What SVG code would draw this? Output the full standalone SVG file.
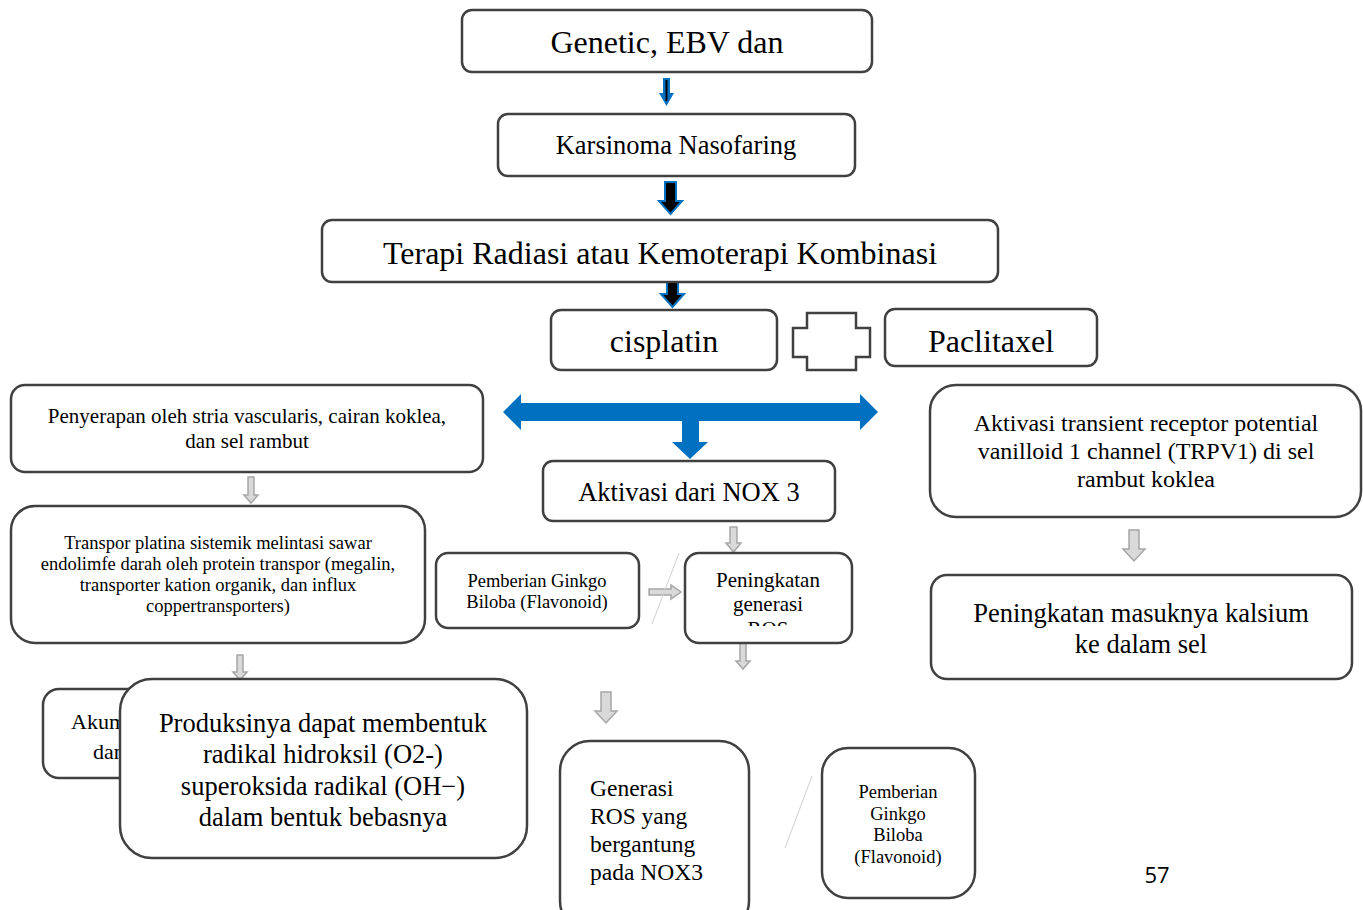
<svg xmlns="http://www.w3.org/2000/svg" width="1363" height="910" viewBox="0 0 1363 910">
  <style>
    .box { fill: #ffffff; stroke: #404040; stroke-width: 2.5; }
    .t { font-family: "Liberation Serif", "Times New Roman", serif; fill: #000000; text-anchor: middle; }
    .tl { font-family: "Liberation Serif", "Times New Roman", serif; fill: #000000; text-anchor: start; }
    .garrow { fill: #d9d9d9; stroke: #a6a6a6; stroke-width: 1.5; }
    .barrow { fill: #0070c0; }
    .faint { stroke: #d0d0d0; stroke-width: 1; fill: none; }
  </style>
  <defs>
    <clipPath id="clipRos">
      <rect x="686" y="554" width="165" height="72"/>
    </clipPath>
  </defs>
  <rect width="1363" height="910" fill="#ffffff"/>

  <!-- connectors -->
  <g id="connectors">
    <!-- blue arrows between the top boxes -->
    <polygon class="barrow" points="663,78 670,78 670,93 674,93 666.5,106 659,93 663,93"/>
    <line x1="666.5" y1="80" x2="666.5" y2="101" stroke="#000" stroke-width="2"/>
    <polygon points="665,182 676,182 676,201 682,201 670.5,214 659,201 665,201" fill="#000" stroke="#0070c0" stroke-width="2"/>
    <polygon points="667,282 678,282 678,294 684,294 672.5,307 661,294 667,294" fill="#000" stroke="#0070c0" stroke-width="2"/>

    <!-- plus sign between the drugs -->
    <polygon points="807,313 856,313 856,328 870,328 870,357 856,357 856,370 807,370 807,357 793,357 793,328 807,328" fill="#ffffff" stroke="#404040" stroke-width="2.5"/>

    <!-- large blue branching arrow -->
    <polygon class="barrow" points="503,412 521,394 521,403 860,403 860,394 878,412 860,430 860,421 699,421 699,442 708,442 690,459 672,442 682,442 682,421 521,421 521,430"/>

    <!-- grey block arrows -->
    <polygon class="garrow" points="248,477 254,477 254,495 258,495 251,503 244,495 248,495"/>
    <polygon class="garrow" points="237,655 243,655 243,672 247,672 240,680 233,672 237,672"/>
    <polygon class="garrow" points="730,527 737,527 737,543 741,543 733.5,552 726,543 730,543"/>
    <polygon class="garrow" points="649,589 671,589 671,585 681,592 671,599 671,595 649,595"/>
    <polygon class="garrow" points="740,643 746,643 746,661 750,661 743,669 736,661 740,661"/>
    <polygon class="garrow" points="601,692 611,692 611,711 617,711 606,723 595,711 601,711"/>
    <polygon class="garrow" points="1129,530 1139,530 1139,549 1145,549 1134,561 1123,549 1129,549"/>

    <!-- faint strike lines -->
    <line class="faint" x1="679" y1="553" x2="652" y2="624"/>
    <line class="faint" x1="812" y1="776" x2="785" y2="848"/>
  </g>

  <g id="genetic">
    <rect class="box" x="462" y="10" width="410" height="62" rx="10"/>
    <text class="t" x="667" y="53" font-size="32">Genetic, EBV dan</text>
  </g>

  <g id="karsinoma">
    <rect class="box" x="498" y="114" width="357" height="62" rx="10"/>
    <text class="t" x="676" y="154" font-size="26.5">Karsinoma Nasofaring</text>
  </g>

  <g id="terapi">
    <rect class="box" x="322" y="220" width="676" height="62" rx="10"/>
    <text class="t" x="660" y="264" font-size="32">Terapi Radiasi atau Kemoterapi Kombinasi</text>
  </g>

  <g id="cisplatin">
    <rect class="box" x="551" y="310" width="226" height="60" rx="10"/>
    <text class="t" x="664" y="352" font-size="32">cisplatin</text>
  </g>

  <g id="paclitaxel">
    <rect class="box" x="885" y="309" width="212" height="57" rx="10"/>
    <text class="t" x="991" y="352" font-size="32">Paclitaxel</text>
  </g>

  <g id="penyerapan">
    <rect class="box" x="11" y="385" width="472" height="87" rx="14"/>
    <text class="t" x="247" y="423" font-size="21">Penyerapan oleh stria vascularis, cairan koklea,</text>
    <text class="t" x="247" y="448" font-size="21">dan sel rambut</text>
  </g>

  <g id="transpor">
    <rect class="box" x="11" y="506" width="414" height="137" rx="24"/>
    <text class="t" x="218" y="549" font-size="18.5">Transpor platina sistemik melintasi sawar</text>
    <text class="t" x="218" y="570" font-size="18.5">endolimfe darah oleh protein transpor (megalin,</text>
    <text class="t" x="218" y="591" font-size="18.5">transporter kation organik, dan influx</text>
    <text class="t" x="218" y="612" font-size="18.5">coppertransporters)</text>
  </g>

  <g id="nox3">
    <rect class="box" x="543" y="461" width="292" height="60" rx="10"/>
    <text class="t" x="689" y="501" font-size="26.5">Aktivasi dari NOX 3</text>
  </g>

  <g id="ginkgo1">
    <rect class="box" x="436" y="553" width="203" height="75" rx="12"/>
    <text class="t" x="537" y="587" font-size="18.5">Pemberian Ginkgo</text>
    <text class="t" x="537" y="608" font-size="18.5">Biloba (Flavonoid)</text>
  </g>

  <g id="ros-up">
    <rect class="box" x="685" y="553" width="167" height="90" rx="14"/>
    <g clip-path="url(#clipRos)">
      <text class="t" x="768" y="587" font-size="21">Peningkatan</text>
      <text class="t" x="768" y="611" font-size="21">generasi</text>
      <text class="t" x="768" y="636" font-size="21">ROS</text>
    </g>
  </g>

  <g id="trpv1">
    <rect class="box" x="930" y="385" width="431" height="132" rx="26"/>
    <text class="t" x="1146" y="431" font-size="24">Aktivasi transient receptor potential</text>
    <text class="t" x="1146" y="459" font-size="24">vanilloid 1 channel (TRPV1) di sel</text>
    <text class="t" x="1146" y="487" font-size="24">rambut koklea</text>
  </g>

  <g id="kalsium">
    <rect class="box" x="931" y="575" width="421" height="104" rx="16"/>
    <text class="t" x="1141" y="622" font-size="26.5">Peningkatan masuknya kalsium</text>
    <text class="t" x="1141" y="653" font-size="26.5">ke dalam sel</text>
  </g>

  <g id="akumulasi">
    <rect class="box" x="43" y="689" width="180" height="89" rx="16"/>
    <text class="tl" x="71" y="729" font-size="22">Akumulasi</text>
    <text class="tl" x="93" y="759" font-size="22">dan</text>
  </g>

  <g id="produksi">
    <rect class="box" x="120" y="679" width="407" height="179" rx="32"/>
    <text class="t" x="323" y="732" font-size="26.5">Produksinya dapat membentuk</text>
    <text class="t" x="323" y="763" font-size="26.5">radikal hidroksil (O2-)</text>
    <text class="t" x="323" y="795" font-size="26.5">superoksida radikal (OH−)</text>
    <text class="t" x="323" y="826" font-size="26.5">dalam bentuk bebasnya</text>
  </g>

  <g id="ros-nox3">
    <rect class="box" x="560" y="741" width="189" height="190" rx="30"/>
    <text class="tl" x="590" y="796" font-size="23.5">Generasi</text>
    <text class="tl" x="590" y="824" font-size="23.5">ROS yang</text>
    <text class="tl" x="590" y="852" font-size="23.5">bergantung</text>
    <text class="tl" x="590" y="880" font-size="23.5">pada NOX3</text>
  </g>

  <g id="ginkgo2">
    <rect class="box" x="822" y="748" width="153" height="150" rx="26"/>
    <text class="t" x="898" y="798" font-size="18.5">Pemberian</text>
    <text class="t" x="898" y="820" font-size="18.5">Ginkgo</text>
    <text class="t" x="898" y="841" font-size="18.5">Biloba</text>
    <text class="t" x="898" y="863" font-size="18.5">(Flavonoid)</text>
  </g>

  <text x="1157" y="883" font-family="'Open Sans', 'Liberation Sans', sans-serif" font-size="22" fill="#000" text-anchor="middle">57</text>
</svg>
